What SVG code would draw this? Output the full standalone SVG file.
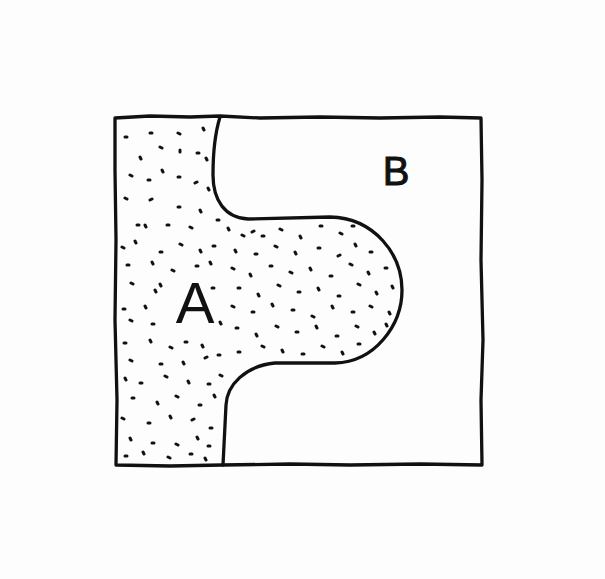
<svg xmlns="http://www.w3.org/2000/svg" width="605" height="579" viewBox="0 0 605 579">
<style>
.line{fill:none;stroke:#111;stroke-width:3.3;stroke-linejoin:round;stroke-linecap:round}
.dots{fill:none;stroke:#111;stroke-width:3;stroke-linecap:round}
.lbl{font-family:"Liberation Sans",Arial,sans-serif;fill:#111;text-anchor:middle}
</style>
<rect width="605" height="579" fill="#fdfdfd"/>
<g id="frame">
<path class="line" d="M115,118 L150,116 L190,117 L220,116 L260,118 L320,117 L380,118 L440,117 L481,118 L482,180 L481,260 L483,340 L481,400 L482,465 L420,464 L350,465 L290,464 L222,465 L170,466 L116,465 L117,400 L115,320 L116,240 L115,170 Z"/>
</g>
<g id="boundary">
<path class="line" d="M220,117 C216,130 213,150 213,175 C213,200 225,218 248,219 L330,217 C375,218 402,255 402,290 C402,325 375,362 335,363 L275,363 C245,366 227,385 226,405 L223,465"/>
</g>
<g id="regionA">
<path class="dots" d="M125,137l2,0 M150,133l2,0 M178,133l2,1 M203,128l1,2 M140,157l1,2 M160,147l2,1 M180,150l0,2 M197,153l2,0 M206,158l1,2 M130,175l2,1 M148,180l2,0 M162,170l1,2 M178,177l2,0 M195,183l2,-1 M208,188l1,2 M125,198l2,1 M150,200l2,-1 M178,207l2,0 M200,210l1,2 M137,225l2,0 M145,225l1,2 M167,225l2,0 M190,227l2,1 M217,220l2,0 M228,228l1,2 M242,235l2,1 M252,232l2,-1 M122,247l2,1 M135,241l1,2 M160,252l2,0 M180,244l2,1 M200,250l1,2 M213,246l2,0 M127,265l2,0 M152,262l1,2 M172,270l2,1 M196,266l2,0 M210,262l1,2 M131,283l2,1 M155,290l1,2 M160,284l1,2 M212,288l2,0 M123,309l2,0 M145,306l1,2 M130,320l2,1 M152,324l2,0 M220,322l1,2 M124,343l2,0 M150,340l1,2 M170,347l2,1 M185,342l2,0 M202,345l1,2 M130,360l2,1 M160,364l2,0 M183,362l1,2 M205,358l2,-1 M218,355l2,0 M125,378l1,2 M140,383l2,0 M165,376l2,1 M188,381l1,2 M208,384l2,0 M220,375l2,1 M132,398l2,0 M157,402l1,2 M176,396l2,1 M199,405l2,0 M214,395l1,2 M122,418l2,1 M148,423l2,0 M170,416l1,2 M192,420l2,-1 M210,428l2,0 M130,438l1,2 M152,443l2,0 M176,444l2,1 M197,437l1,2 M208,446l2,0 M125,456l2,0 M143,452l1,2 M168,457l2,1 M190,454l2,0 M205,458l1,2 M262,236l2,0 M280,229l2,1 M300,236l1,2 M320,226l2,0 M340,233l2,1 M352,226l2,0 M235,250l1,2 M255,254l2,0 M275,246l2,1 M295,252l1,2 M318,248l2,0 M338,256l2,-1 M355,244l1,2 M370,252l2,0 M232,268l2,1 M250,274l1,2 M270,266l2,0 M290,272l2,1 M310,268l1,2 M330,276l2,0 M350,264l2,1 M368,272l1,2 M385,268l2,0 M238,288l2,0 M258,294l1,2 M278,285l2,1 M298,292l2,0 M318,288l1,2 M338,296l2,0 M358,284l2,1 M376,292l1,2 M392,286l1,2 M232,306l2,1 M252,312l2,0 M272,304l1,2 M292,310l2,0 M312,316l2,1 M332,306l1,2 M352,312l2,0 M370,306l2,1 M389,312l1,2 M236,328l2,0 M256,334l1,2 M276,326l2,1 M296,332l2,0 M316,326l1,2 M336,336l2,0 M356,326l2,1 M374,332l1,2 M386,324l1,2 M238,352l2,0 M262,346l2,1 M282,350l1,2 M302,354l2,0 M322,346l2,1 M342,352l1,2 M358,344l2,0"/>
<text class="lbl" x="195" y="323" font-size="58">A</text>
</g>
<g id="regionB">
<text class="lbl" x="396" y="185" font-size="40" stroke="#111" stroke-width="1">B</text>
</g>
</svg>
